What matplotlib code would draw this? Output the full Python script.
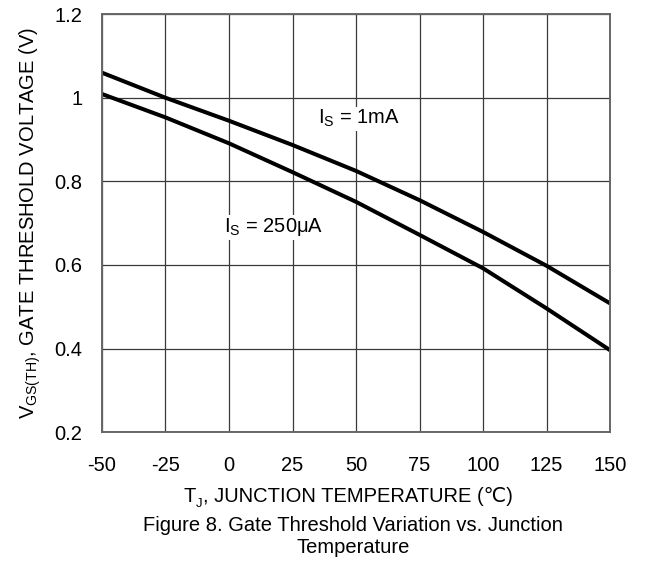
import matplotlib
matplotlib.use('Agg')
import matplotlib.pyplot as plt

plt.rcParams['font.family'] = ['Liberation Sans', 'DejaVu Sans']
plt.rcParams['axes.unicode_minus'] = False

# junction temperature (C)
temp = [-50, -25, 0, 25, 50, 75, 100, 125, 150]
# gate threshold voltage (V)
vth_1ma = [1.06, 1.0, 0.945, 0.887, 0.825, 0.755, 0.679, 0.598, 0.508]
vth_250ua = [1.009, 0.953, 0.891, 0.822, 0.751, 0.672, 0.592, 0.496, 0.396]

xticks = [-50, -25, 0, 25, 50, 75, 100, 125, 150]
yticks = [0.2, 0.4, 0.6, 0.8, 1.0, 1.2]
ytick_labels = ['0.2', '0.4', '0.6', '0.8', '1', '1.2']

fs = 14.5

fig = plt.figure(figsize=(6.45, 5.65), dpi=100)
ax = fig.add_axes([0.158, 0.235, 0.788, 0.740])

ax.plot(temp, vth_1ma, color='black', lw=2.9, solid_capstyle='butt')
ax.plot(temp, vth_250ua, color='black', lw=2.9, solid_capstyle='butt')

ax.set_xlim(-50, 150)
ax.set_ylim(0.2, 1.2)
ax.set_xticks(xticks)
ax.set_yticks(yticks)
ax.set_yticklabels(ytick_labels)
ax.tick_params(length=0, labelsize=fs)
ax.tick_params(axis='x', pad=17)
ax.tick_params(axis='y', pad=14)
ax.grid(True, color='#3a3a3a', lw=0.9)
ax.set_axisbelow(True)
for s in ax.spines.values():
    s.set_color('#666666')
    s.set_linewidth(1.4)

# curve labels with white box so the grid doesn't run through
ax.text(35, 0.95, r'I$_\mathregular{S}$ = 1mA', fontsize=fs, va='center', ha='left',
        bbox=dict(facecolor='white', edgecolor='none', pad=1))
ax.text(-2, 0.69, r'I$_\mathregular{S}$ = 250μA', fontsize=fs, va='center', ha='left',
        bbox=dict(facecolor='white', edgecolor='none', pad=1))

ax.set_ylabel(r'V$_\mathregular{GS(TH)}$, GATE THRESHOLD VOLTAGE (V)', fontsize=fs, labelpad=8)

# x label built from plain pieces so the ℃ glyph can fall back to DejaVu
t1 = fig.text(0.284, 0.104, 'T', fontsize=fs, ha='left', va='bottom')
t2 = ax.annotate('J', xy=(1, 0), xycoords=t1, xytext=(0.5, -3), textcoords='offset points',
                 fontsize=fs * 0.65, ha='left', va='bottom', annotation_clip=False)
ax.annotate(', JUNCTION TEMPERATURE (℃)', xy=(1, 0), xycoords=(t2, t1), fontsize=fs,
            ha='left', va='bottom', annotation_clip=False)

fig.text(0.547, 0.051, 'Figure 8. Gate Threshold Variation vs. Junction\nTemperature',
         fontsize=fs, ha='center', va='center', linespacing=1.2)

fig.savefig('out.png', dpi=100)
